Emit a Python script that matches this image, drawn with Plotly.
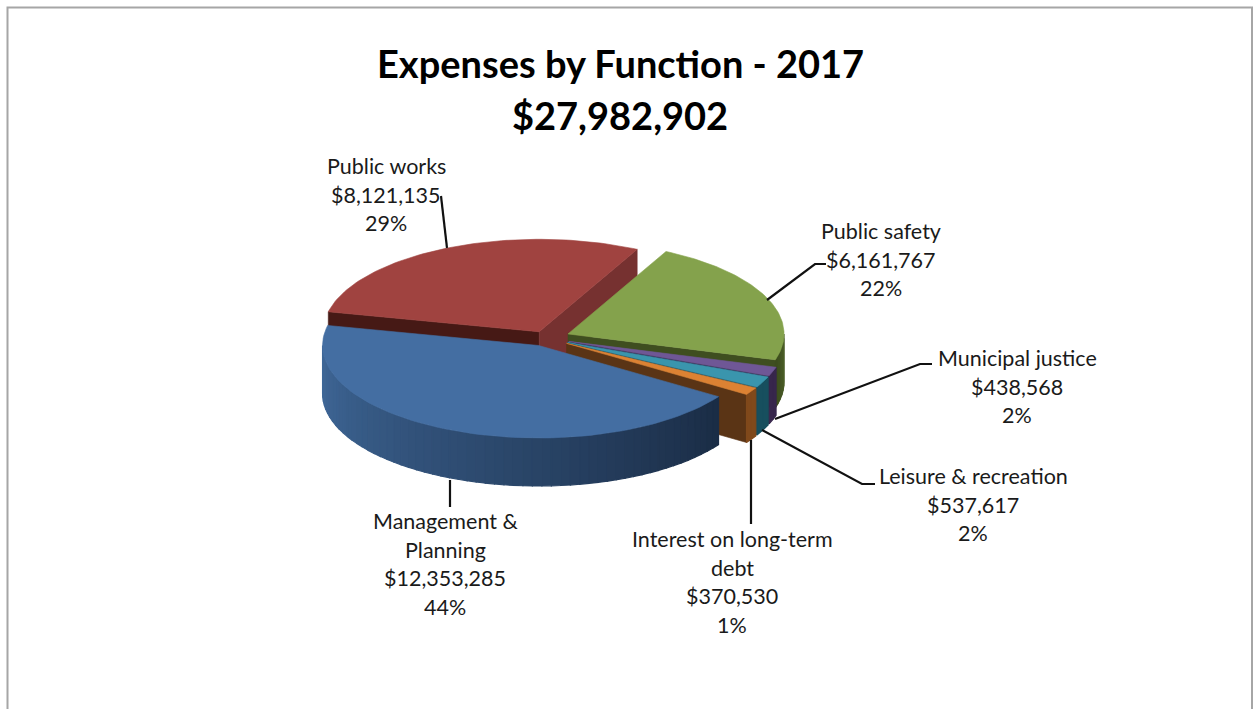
import numpy as np
import plotly.graph_objects as go

# Slices in clockwise drawing order, starting at the left edge of the red slice
categories = ["Public works", "Public safety", "Municipal justice",
              "Leisure & recreation", "Interest on long-term debt", "Management & Planning"]
values = [8121135, 6161767, 438568, 537617, 370530, 12353285]
label_names = [["Public works"], ["Public safety"], ["Municipal justice"],
               ["Leisure & recreation"], ["Interest on long-term", "debt"], ["Management &", "Planning"]]
title_lines = ["Expenses by Function - 2017", "$27,982,902"]

top_colors = ["#A04340", "#84A24C", "#6F5796", "#3A95AD", "#DC8233", "#446EA2"]
start_face_colors = ["#461915", None, None, None, None, None]
end_face_colors = ["#763130", "#3F4E20", "#35264B", "#174E5D", "#5A3415", None]
wall_colors = [("#000000", "#000000"), ("#3A4A1C", "#4D6029"), ("#37264C", "#37264C"),
               ("#174F5E", "#174F5E"), ("#80491B", "#80491B"), ("#40699A", "#1A2C45")]

# Pie projection, in page pixels
CX, CY = 546.0, 338.0
RX, RY = 216.0, 92.5
DEPTH = 48.0
START_ANGLE = 167.5
explode = [16.0, 24.0, 24.0, 24.0, 24.0, 19.0]
W, H = 1257, 709

# Label placement: centre x, first line y, and leader-line path
label_x = [386, 881, 1017, 973, 732, 445]
label_y = [166, 231, 358, 476, 539, 521]
LINE_STEP = 28.6
leader_x = [[447, 441], [767, 815, 826], [775, 920, 932], [762, 862, 875], [751, 751], [450, 450]]
leader_y = [[248, 196], [300, 264, 264], [419, 364, 364], [430, 484, 484], [440, 524], [480, 507]]

def hex_rgb(c):
    return np.array([int(c[i:i + 2], 16) for i in (1, 3, 5)], dtype=float)

def mix(c0, c1, f):
    r = hex_rgb(c0) * (1 - f) + hex_rgb(c1) * f
    return "rgb(%d,%d,%d)" % tuple(r.round())

fig = go.Figure()

def poly(xs, ys, color, width=0.6):
    fig.add_trace(go.Scatter(x=list(xs), y=list(ys), mode="lines", fill="toself", fillcolor=color,
                             line=dict(color=color, width=width), hoverinfo="skip", showlegend=False))

total = sum(values)
spans = [v / total * 360 for v in values]
angle = START_ANGLE

for i, span in enumerate(spans):
    a0, a1 = angle, angle - span
    angle = a1
    mid = np.radians((a0 + a1) / 2)
    ox = CX + explode[i] * np.cos(mid)
    oy = CY - explode[i] * np.sin(mid) * RY / RX

    def rim(t_deg):
        t = np.radians(t_deg)
        return ox + RX * np.cos(t), oy - RY * np.sin(t)

    # Straight cut faces that turn toward the viewer
    for edge, colors, sign in ((a0, start_face_colors, -1), (a1, end_face_colors, 1)):
        if colors[i] and sign * np.cos(np.radians(edge)) > 0:
            ex, ey = rim(edge)
            poly([ox, ex, ex, ox, ox], [oy, ey, ey + DEPTH, oy + DEPTH, oy], colors[i])

    # Outer wall: only the part of the rim below the horizontal axis shows
    lo = max(a1, -180)
    hi = min(a0, 0)
    if hi > lo:
        n_bands = max(2, int((hi - lo) / 2.5))
        edges = np.linspace(lo, hi, n_bands + 1)
        for j in range(n_bands):
            tt = np.linspace(edges[j], edges[j + 1], 4)
            xs, ys = rim(tt)
            shade = mix(wall_colors[i][0], wall_colors[i][1], (j + 0.5) / n_bands)
            poly(np.r_[xs, xs[::-1], xs[0]], np.r_[ys, ys[::-1] + DEPTH, ys[0]], shade, width=1.2)

    # Top surface
    tt = np.linspace(a0, a1, 80)
    xs, ys = rim(tt)
    poly(np.r_[ox, xs, ox], np.r_[oy, ys, oy], top_colors[i])

annotations = []

# Title
for text, y in zip(title_lines, [63, 115]):
    annotations.append(dict(x=620, y=y, text="<b>%s</b>" % text, showarrow=False, xref="x", yref="y",
                            xanchor="center", yanchor="middle",
                            font=dict(family="Lato", size=38, color="#000000")))

# Slice labels: name lines, dollar amount, rounded share
for i, names in enumerate(label_names):
    lines = names + ["${:,}".format(values[i]), "{:.0f}%".format(values[i] / total * 100)]
    for k, line in enumerate(lines):
        annotations.append(dict(x=label_x[i], y=label_y[i] + k * LINE_STEP, text=line, showarrow=False,
                                xref="x", yref="y", xanchor="center", yanchor="middle",
                                font=dict(family="Lato", size=21.5, color="#1a1a1a")))

# Leader lines
for lx, ly in zip(leader_x, leader_y):
    fig.add_trace(go.Scatter(x=lx, y=ly, mode="lines", line=dict(color="#111111", width=2.2),
                             hoverinfo="skip", showlegend=False))

# Sheet frame, running off the lower edge
frame = dict(type="path", path="M 7.5 709 L 7.5 7.5 L 1252 7.5 L 1252 709", xref="x", yref="y",
             line=dict(color="#A6A6A6", width=2))

fig.update_layout(
    width=W, height=H, autosize=False, margin=dict(l=0, r=0, t=0, b=0),
    paper_bgcolor="white", plot_bgcolor="white", showlegend=False,
    xaxis=dict(range=[0, W], visible=False, fixedrange=True),
    yaxis=dict(range=[H, 0], visible=False, fixedrange=True),
    annotations=annotations, shapes=[frame],
)
fig.write_html("out.html", config={"displayModeBar": False})
